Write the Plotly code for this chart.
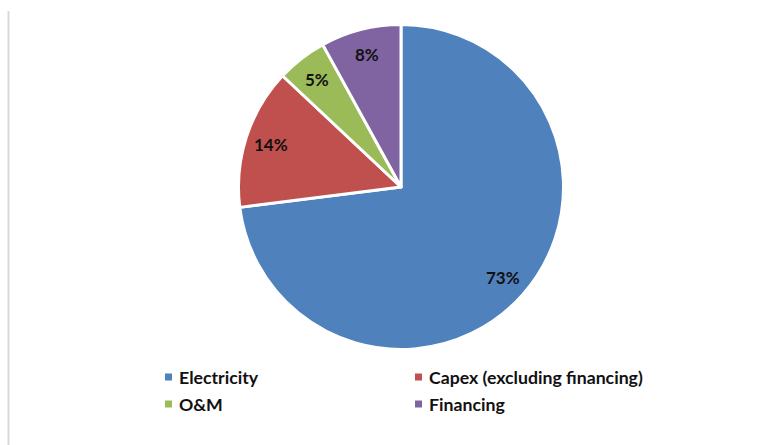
import math
import plotly.graph_objects as go

labels = ["Electricity", "Capex (excluding financing)", "O&M", "Financing"]
values = [73, 14, 5, 8]
colors = ["#4F81BD", "#C0504D", "#9BBB59", "#8064A2"]

W, H = 780, 445
cx, cy, R = 401, 187, 162.5

fig = go.Figure()
fig.add_trace(go.Pie(
    labels=labels, values=values, sort=False, direction="clockwise", rotation=0,
    marker=dict(colors=colors, line=dict(color="white", width=3)),
    textinfo="none", hoverinfo="label+percent", showlegend=False,
    domain=dict(x=[(cx - R) / W, (cx + R) / W], y=[(H - cy - R) / H, (H - cy + R) / H]),
))

annotations = []
total = sum(values)
cum = 0
for v in values:
    mid = (cum + v / 2) / total * 2 * math.pi
    cum += v
    r = 0.84 * R
    px = cx + r * math.sin(mid)
    py = cy - r * math.cos(mid)
    annotations.append(dict(
        x=px / W, y=(H - py) / H, xref="paper", yref="paper",
        text=f"{round(v / total * 100)}%", showarrow=False,
        font=dict(family="Lato", size=17, color="#111111", weight="bold"),
        xanchor="center", yanchor="middle"))

# manual two-column legend
shapes = [dict(type="line", xref="paper", yref="paper", x0=8.5 / W, x1=8.5 / W,
               y0=0, y1=(H - 11) / H, line=dict(color="#d9d9d9", width=2))]
col_x = [165, 415]
row_y = [377, 404]
for i, (lab, col) in enumerate(zip(labels, colors)):
    x0 = col_x[i % 2]
    y0 = row_y[i // 2]
    shapes.append(dict(type="rect", xref="paper", yref="paper",
                       x0=x0 / W, x1=(x0 + 7) / W, y0=(H - y0 - 3.5) / H, y1=(H - y0 + 3.5) / H,
                       fillcolor=col, line=dict(width=0)))
    annotations.append(dict(
        x=(x0 + 12) / W, y=(H - y0) / H, xref="paper", yref="paper",
        text=lab, showarrow=False, xanchor="left", yanchor="middle",
        font=dict(family="Lato", size=17.7, color="#111111", weight="bold")))

fig.update_layout(
    width=W, height=H, margin=dict(l=0, r=0, t=0, b=0),
    paper_bgcolor="white", plot_bgcolor="white",
    annotations=annotations, shapes=shapes,
)
fig.write_html("out.html")
